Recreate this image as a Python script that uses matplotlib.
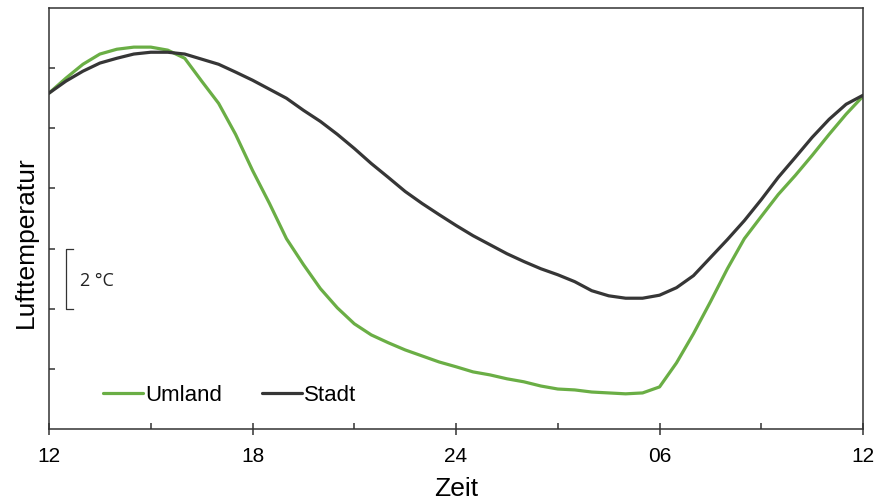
import matplotlib
matplotlib.use("Agg")
import matplotlib.pyplot as plt
from matplotlib.ticker import FixedLocator

plt.rcParams['font.family'] = ['Liberation Sans', 'DejaVu Sans']

# hours after 12:00 (noon to noon)
hours = [0, 0.5, 1, 1.5, 2, 2.5, 3, 3.5, 4, 4.5, 5, 5.5, 6, 6.5, 7, 7.5,
         8, 8.5, 9, 9.5, 10, 10.5, 11, 11.5, 12, 12.5, 13, 13.5, 14, 14.5,
         15, 15.5, 16, 16.5, 17, 17.5, 18, 18.5, 19, 19.5, 20, 20.5, 21,
         21.5, 22, 22.5, 23, 23.5, 24]

# relative air temperature (degC), city
stadt = [11.17, 11.57, 11.9, 12.17, 12.33, 12.47, 12.53, 12.53, 12.47, 12.3,
         12.13, 11.87, 11.6, 11.3, 11.0, 10.6, 10.23, 9.8, 9.33, 8.83,
         8.37, 7.9, 7.5, 7.13, 6.77, 6.43, 6.13, 5.83, 5.57, 5.33,
         5.13, 4.9, 4.6, 4.43, 4.35, 4.35, 4.45, 4.7, 5.1, 5.7,
         6.3, 6.93, 7.63, 8.37, 9.03, 9.7, 10.3, 10.8, 11.1]

# relative air temperature (degC), surroundings
umland = [11.17, 11.67, 12.13, 12.47, 12.63, 12.7, 12.7, 12.6, 12.33, 11.57,
          10.83, 9.8, 8.6, 7.5, 6.33, 5.47, 4.67, 4.03, 3.5, 3.13,
          2.87, 2.63, 2.43, 2.23, 2.07, 1.9, 1.8, 1.67, 1.57, 1.43,
          1.33, 1.3, 1.23, 1.2, 1.17, 1.2, 1.4, 2.2, 3.17, 4.23,
          5.33, 6.33, 7.07, 7.8, 8.43, 9.1, 9.8, 10.47, 11.07]

xticks = [0, 6, 12, 18, 24]
xticklabels = ['12', '18', '24', '06', '12']
xminor = [3, 9, 15, 21]
yticks = [2, 4, 6, 8, 10, 12]

green = '#6aae45'
dark = '#363636'

fig = plt.figure(figsize=(8.77, 5.02), dpi=100)
ax = fig.add_axes([0.0559, 0.1434, 0.9282, 0.8386])

ax.plot(hours, umland, color=green, lw=2.3, solid_capstyle='round',
        solid_joinstyle='round', label='Umland')
ax.plot(hours, stadt, color=dark, lw=2.3, solid_capstyle='round',
        solid_joinstyle='round', label='Stadt')

ax.set_xlim(0, 24)
ax.set_ylim(0, 14)

ax.set_xticks(xticks)
ax.set_xticklabels(xticklabels)
ax.xaxis.set_minor_locator(FixedLocator(xminor))
ax.set_yticks(yticks)
ax.set_yticklabels([])

ax.tick_params(axis='x', which='major', direction='inout', length=9, width=1.1,
               color='#333333', labelsize=15, pad=8)
ax.tick_params(axis='x', which='minor', direction='in', length=4.5, width=1.1,
               color='#333333')
ax.tick_params(axis='y', direction='in', length=4, width=1.1, color='#333333')

for s in ax.spines.values():
    s.set_color('#333333')
    s.set_linewidth(1.1)

ax.set_xlabel('Zeit', fontsize=19, labelpad=8)
ax.set_ylabel('Lufttemperatur', fontsize=19)
ax.yaxis.set_label_coords(-0.014, 0.447)

# 2 degC scale bracket
bx, bcap, blo, bhi = 0.5, 0.71, 4, 6
ax.plot([bcap, bx, bx, bcap], [bhi, bhi, blo, blo], color='#333333', lw=0.9)
ax.text(0.91, 4.95, '2 °C', fontsize=13, va='center', ha='left',
        family=['Open Sans', 'DejaVu Sans'], color='#222222')

ax.legend(loc='center left', bbox_to_anchor=(0.066, 0.081), frameon=False,
          fontsize=16, handlelength=1.8, handletextpad=0.1, columnspacing=1.8,
          ncol=2, borderpad=0, borderaxespad=0)

fig.savefig('out.png', dpi=100)
